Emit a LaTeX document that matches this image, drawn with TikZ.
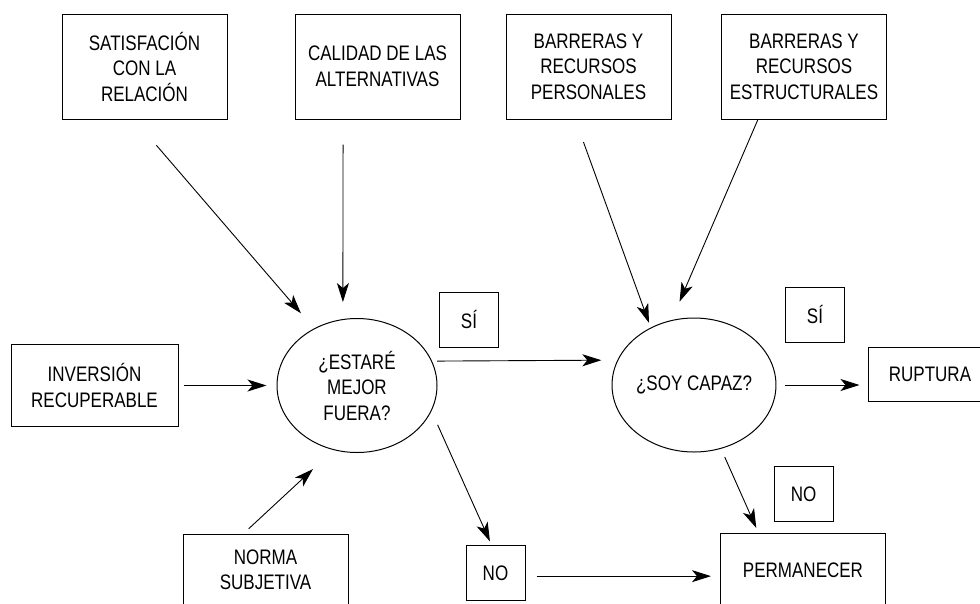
\documentclass[tikz,border=0pt]{standalone}
\usepackage{fontspec}
\setmainfont{Liberation Sans}[FakeStretch=0.81]
\usetikzlibrary{
    arrows.meta,
    shapes,
    calc,
    positioning
}

\begin{document}
\begin{tikzpicture}[x=1pt, y=-1pt,
    every node/.style={font=\fontsize{21}{25.5}\selectfont, align=center, inner sep=0pt},
    box/.style={draw, line width=1pt, minimum width=165pt, minimum height=105pt},
    pregunta/.style={draw, ellipse, line width=1pt, minimum width=160pt, minimum height=134pt},
    resp/.style={draw, line width=1pt, minimum width=59pt, minimum height=55pt},
    arr/.style={line width=0.9pt, -{Stealth[length=19pt, width=12pt, inset=5pt]}}]
    \useasboundingbox (0,0) rectangle (980,603);
    \clip (0,0) rectangle (980,603);

    % factores
    \node[box] (sat) at (144.5,66.5) {SATISFACIÓN\\CON LA\\RELACIÓN};
    \node[box] (cal) at (377.5,66.5) {CALIDAD DE LAS\\ALTERNATIVAS};
    \node[box] (per) at (588.5,66.5) {BARRERAS Y\\RECURSOS\\PERSONALES};
    \node[box] (est) at (804,66.5) {BARRERAS Y\\RECURSOS\\ESTRUCTURALES};
    \node[box, minimum width=167pt, minimum height=82pt] (inv) at (94.5,385.5) {INVERSIÓN\\RECUPERABLE};
    \node[box, minimum height=72pt] (nor) at (265.5,570) {NORMA\\SUBJETIVA};

    % preguntas
    \node[pregunta] (q1) at (357,385.5) {¿ESTARÉ\\MEJOR\\FUERA?};
    \node[pregunta] (q2) at (694,385) {¿SOY CAPAZ?};

    % respuestas
    \node[resp] (si1) at (469,319.5) {SÍ};
    \node[resp] (si2) at (815,314.5) {SÍ};
    \node[resp] (no1) at (495.5,573) {NO};
    \node[resp] (no2) at (803.5,494) {NO};

    % resultados
    \node[box, minimum width=124pt, minimum height=54pt] (rup) at (930,374) {RUPTURA};
    \node[box, minimum height=74pt] (perm) at (803,570) {PERMANECER};

    \draw[arr, shorten <=34pt, shorten >=20pt] (sat.-101) -- (q1.127);
    \draw[arr, shorten <=25pt, shorten >=17pt] (cal.-123) -- (q1.102);
    \draw[arr, shorten <=5pt, shorten >=10pt] (inv.east) -- (q1.west);
    \draw[arr, shorten <=7pt, shorten >=28pt] (nor.121) -- (q1.-110);
    \draw[arr, shorten <=5pt, shorten >=16pt] (q1.18) -- (q2.162);
    \draw[arr, shorten <=15pt, shorten >=4pt] (q1.-19) -- (no1.98);
    \draw[arr, shorten <=24pt, shorten >=5pt] (per.-104) -- (q2.127);
    \draw[arr, shorten >=20pt] (est.-131) -- (q2.109);
    \draw[arr, shorten <=9pt, shorten >=8pt] (q2.east) -- (q2.east -| rup.west);
    \draw[arr, shorten <=9pt, shorten >=5pt] (q2.-67) -- (perm.140);
    \draw[arr, shorten <=11pt, shorten >=9pt] (no1.-6) -- (no1.-6 -| perm.west);
\end{tikzpicture}
\end{document}
